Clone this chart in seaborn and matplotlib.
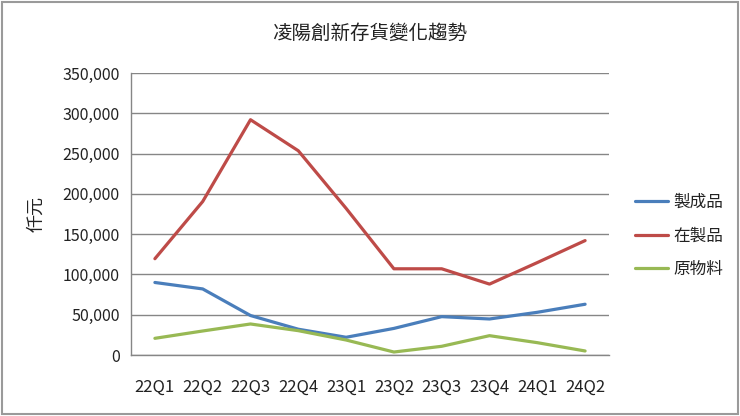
import numpy as np
import pandas as pd
import matplotlib
matplotlib.use("Agg")
import matplotlib.pyplot as plt
import seaborn as sns
from matplotlib.patches import Rectangle
from matplotlib.ticker import FuncFormatter

# data (仟元)
quarters = ["22Q1", "22Q2", "22Q3", "22Q4", "23Q1", "23Q2", "23Q3", "23Q4", "24Q1", "24Q2"]
finished = [90000, 82000, 49000, 32000, 22000, 33000, 47600, 44700, 53000, 63000]
wip = [119500, 190500, 292000, 253500, 182000, 107000, 107000, 88000, 114700, 142000]
raw = [20700, 29800, 38500, 30200, 18600, 3700, 10800, 24000, 15300, 5000]
series_names = ["製成品", "在製品", "原物料"]
colors = ["#4A7EBB", "#BE4B48", "#98B954"]

rows = []
for name, vals in zip(series_names, [finished, wip, raw]):
    for i, v in enumerate(vals):
        rows.append({"quarter": i, "value": v, "series": name})
df = pd.DataFrame(rows)

sns.set_style("white")
plt.rcParams['font.family'] = ['Noto Sans CJK TC', 'DejaVu Sans']

fig = plt.figure(figsize=(7.4, 4.16), dpi=100)
ax = fig.add_axes([131/740, 1 - 355/416, (609-131)/740, (355-73)/416])

sns.lineplot(data=df, x="quarter", y="value", hue="series", palette=colors,
             hue_order=series_names, linewidth=2.3, sort=False, ax=ax, legend=False)

ax.set_xlim(-0.5, 9.5)
ax.set_ylim(0, 350000)
ax.set_yticks(np.arange(0, 350001, 50000))
ax.yaxis.set_major_formatter(FuncFormatter(lambda v, p: f"{int(v):,}"))
ax.set_xticks(range(len(quarters)))
ax.set_xticklabels(quarters)
ax.set_xticks(np.arange(-0.5, 10, 1), minor=True)
ax.tick_params(axis="x", which="major", length=0, pad=17, labelsize=12, colors="#222222")
ax.tick_params(axis="x", which="minor", length=5, color="#868686", width=1, direction="out")
ax.tick_params(axis="y", length=5, color="#868686", width=1, direction="out", pad=3,
               labelsize=11.5, labelcolor="#222222")
ax.grid(axis="y", color="#868686", linewidth=1)
ax.grid(axis="x", visible=False)
ax.set_axisbelow(True)
for s in ["top", "right"]:
    ax.spines[s].set_visible(False)
for s in ["left", "bottom"]:
    ax.spines[s].set_color("#868686")
    ax.spines[s].set_linewidth(1)
ax.set_xlabel("")
ax.set_ylabel("仟元", fontsize=13, labelpad=12, color="#222222")

fig.text(370/740, 1 - 33/416, "凌陽創新存貨變化趨勢", ha="center", va="center",
         fontsize=14, color="#222222")

# legend on the right
leg_handles = [plt.Line2D([0], [0], color=c, linewidth=2.3) for c in colors]
fig.legend(leg_handles, series_names, loc="center left", bbox_to_anchor=(620/740, 1 - 236/416),
           frameon=False, fontsize=12, handlelength=2.0, handletextpad=0.3,
           labelspacing=1.0, labelcolor="#222222")

fig.add_artist(Rectangle((2/740, 2/416), 1 - 4/740, 1 - 4/416, transform=fig.transFigure,
                         fill=False, edgecolor="#9a9a9a", linewidth=1.5))

fig.savefig("out.png", dpi=100)
